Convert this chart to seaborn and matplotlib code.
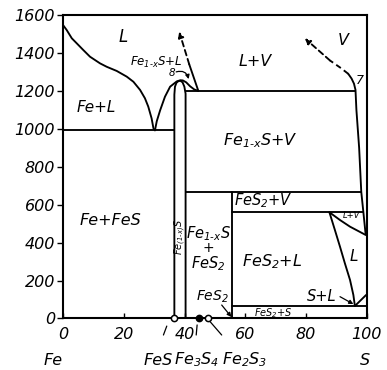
import matplotlib
matplotlib.use("Agg")
import matplotlib.pyplot as plt
import seaborn as sns
import pandas as pd

sns.set_theme(style="white")
plt.rcParams["font.family"] = ["DejaVu Sans"]
plt.rcParams["font.style"] = "oblique"
plt.rcParams["mathtext.fontset"] = "dejavusans"

# ---- phase-boundary data (wt.% S, temperature in deg C) ----
liq_fe_x = [0.0, 1.1, 2.8, 4.4, 6.6, 8.8, 12.1, 14.3, 17.6, 20.9, 23.1, 25.3, 26.9, 28.0, 29.1, 29.7, 30.2]
liq_fe_T = [1545, 1521, 1477, 1451, 1415, 1380, 1345, 1327, 1305, 1275, 1248, 1205, 1161, 1117, 1055, 1003, 992]

liq_fes_x = [30.2, 30.8, 31.9, 33.5, 35.2, 37.4, 38.6, 39.4, 40.5, 41.8, 43.2, 44.5]
liq_fes_T = [992, 1040, 1097, 1169, 1222, 1250, 1256, 1255, 1245, 1224, 1207, 1200]

dome_x = [36.6, 36.6, 36.8, 37.3, 38.0, 38.6, 39.3, 39.9, 40.3, 40.3]
dome_T = [0, 1180, 1222, 1243, 1252, 1253, 1245, 1222, 1185, 0]

eutectic_x = [0, 36.6]
eutectic_T = [992, 992]

mono_x = [40.3, 96.3]
mono_T = [1200, 1200]

vap_right_x = [93.9, 95.0, 95.8, 96.3, 96.6, 97.5, 98.2, 98.9, 99.6, 100.0]
vap_right_T = [1290, 1265, 1238, 1205, 1100, 900, 668, 560, 450, 440]

vap_dash_x = [93.9, 91.5, 87.9, 79.6]
vap_dash_T = [1290, 1320, 1360, 1477]

left_solid_x = [44.5, 41.5]
left_solid_T = [1200, 1340]
left_dash_x = [41.5, 38.2]
left_dash_T = [1340, 1512]

pyrite_top_x = [40.3, 98.2]
pyrite_top_T = [668, 668]
pyrite_v_x = [55.6, 98.9]
pyrite_v_T = [560, 560]
pyrite_col_x = [55.6, 55.6]
pyrite_col_T = [0, 668]

lv_x = [87.7, 91.2, 94.5, 99.7]
lv_T = [560, 519, 484, 440]

liq_s_x = [87.7, 89.5, 91.2, 92.8, 94.5, 95.6, 96.1]
liq_s_T = [560, 467, 378, 291, 203, 124, 66]

s_liq_x = [96.1, 99.8]
s_liq_T = [66, 124]

fes2_s_x = [55.6, 100.0]
fes2_s_T = [66, 66]

compound_x = [36.4, 44.6, 47.7]
compound_T = [0, 0, 0]
compound_fill = ["white", "black", "white"]

x_ticks = [0, 20, 40, 60, 80, 100]
y_ticks = [0, 200, 400, 600, 800, 1000, 1200, 1400, 1600]

fig = plt.figure(figsize=(3.87, 3.70), dpi=100)
ax = fig.add_axes([0.1636, 0.1392, 0.784, 0.8203])
ax.set_xlim(0, 100)
ax.set_ylim(0, 1600)

LW = 1.35
K = "black"
for xs, ts in [(liq_fe_x, liq_fe_T), (liq_fes_x, liq_fes_T), (dome_x, dome_T),
               (eutectic_x, eutectic_T), (mono_x, mono_T), (vap_right_x, vap_right_T),
               (left_solid_x, left_solid_T), (pyrite_top_x, pyrite_top_T),
               (pyrite_v_x, pyrite_v_T), (pyrite_col_x, pyrite_col_T),
               (lv_x, lv_T), (liq_s_x, liq_s_T), (s_liq_x, s_liq_T),
               (fes2_s_x, fes2_s_T)]:
    ax.plot(xs, ts, color=K, lw=LW, solid_capstyle="round")

# dashed vapour-pressure directions
ax.plot(vap_dash_x[:-1], vap_dash_T[:-1], color=K, lw=LW, ls=(0, (3, 2)))
ax.annotate("", xy=(vap_dash_x[-1], vap_dash_T[-1]), xytext=(vap_dash_x[-2], vap_dash_T[-2]),
            arrowprops=dict(arrowstyle="-|>", color=K, lw=LW, ls=(0, (3, 2)),
                            mutation_scale=8, shrinkA=0, shrinkB=0))
ax.annotate("", xy=(left_dash_x[1], left_dash_T[1]), xytext=(left_dash_x[0], left_dash_T[0]),
            arrowprops=dict(arrowstyle="-|>", color=K, lw=LW, ls=(0, (3, 2)),
                            mutation_scale=8, shrinkA=0, shrinkB=0))

# compound markers on the composition axis
comp = pd.DataFrame({"x": compound_x, "T": compound_T, "fill": compound_fill})
for fc, sub in comp.groupby("fill"):
    sns.scatterplot(data=sub, x="x", y="T", ax=ax, s=20, color=fc,
                    edgecolor=K, linewidth=1.1, zorder=5, clip_on=False, legend=False)

it = dict(fontstyle="oblique", color=K)

# region labels
ax.text(19.7, 1485, "L", fontsize=12, ha="center", va="center", **it)
ax.text(11.0, 1110, "Fe+L", fontsize=11, ha="center", va="center", **it)
ax.text(30.6, 1352, r"$Fe_{1\text{-}x}S$+$L$", fontsize=8.5, ha="center", va="center", color=K)
ax.text(35.7, 1292, "8", fontsize=7.5, ha="center", va="center", **it)
ax.annotate("", xy=(41.3, 1262), xytext=(37.2, 1300),
            arrowprops=dict(arrowstyle="-|>", color=K, lw=0.9, mutation_scale=6,
                            connectionstyle="arc3,rad=-0.5", shrinkA=0, shrinkB=0))
ax.text(63.2, 1354, "L+V", fontsize=11.5, ha="center", va="center", **it)
ax.text(92.2, 1468, "V", fontsize=11.5, ha="center", va="center", **it)
ax.text(97.8, 1257, "7", fontsize=9, ha="center", va="center", **it)
ax.text(64.8, 940, r"$Fe_{1\text{-}x}S$+$V$", fontsize=11.5, ha="center", va="center", color=K)
ax.text(15.4, 519, "Fe+FeS", fontsize=11.5, ha="center", va="center", **it)
ax.text(38.5, 431, r"$Fe_{(1\text{-}x)}S$", fontsize=7, rotation=90, ha="center", va="center", color=K)
ax.text(47.8, 449, r"$Fe_{1\text{-}x}S$", fontsize=10.5, ha="center", va="center", color=K)
ax.text(47.8, 370, "+", fontsize=10, ha="center", va="center", color=K)
ax.text(47.8, 291, r"$FeS_2$", fontsize=10.5, ha="center", va="center", color=K)
ax.text(65.8, 620, r"$FeS_2$+$V$", fontsize=10.5, ha="center", va="center", color=K)
ax.text(68.7, 299, r"$FeS_2$+$L$", fontsize=11.5, ha="center", va="center", color=K)
ax.text(95.6, 326, "L", fontsize=11, ha="center", va="center", **it)
ax.text(95.1, 543, "L+V", fontsize=6, ha="center", va="center", **it)
ax.text(69.2, 26, r"$FeS_2$+$S$", fontsize=7, ha="center", va="center", color=K)
ax.text(85.2, 115, "S+L", fontsize=10.5, ha="center", va="center", **it)
ax.annotate("", xy=(95.6, 76), xytext=(91.2, 115),
            arrowprops=dict(arrowstyle="-|>", color=K, lw=0.9, mutation_scale=6,
                            shrinkA=0, shrinkB=0))
ax.text(49.3, 115, r"$FeS_2$", fontsize=10, ha="center", va="center", color=K)
ax.annotate("", xy=(55.4, 8), xytext=(52.2, 71),
            arrowprops=dict(arrowstyle="-|>", color=K, lw=0.9, mutation_scale=6,
                            shrinkA=0, shrinkB=0))

# leaders and compound names below the axis
for xs, ts in [([34.1, 33.0], [-40, -87]), ([44.1, 43.8], [-34, -87]), ([48.4, 52.2], [-17, -87])]:
    ax.plot(xs, ts, color=K, lw=0.9, clip_on=False)
ax.text(-3.3, -219, "Fe", fontsize=11.5, ha="center", va="center", **it)
ax.text(31.3, -219, "FeS", fontsize=11.5, ha="center", va="center", **it)
ax.text(44.0, -219, r"$Fe_3S_4$", fontsize=11.5, ha="center", va="center", color=K)
ax.text(59.9, -219, r"$Fe_2S_3$", fontsize=11.5, ha="center", va="center", color=K)
ax.text(99.4, -219, "S", fontsize=11.5, ha="center", va="center", **it)

# axes frame and ticks
for sp in ax.spines.values():
    sp.set_visible(True)
    sp.set_color(K)
    sp.set_linewidth(1.5)
ax.set_xticks(x_ticks)
ax.set_yticks(y_ticks)
ax.set_xticklabels([str(v) for v in x_ticks], fontsize=11.5, fontstyle="oblique")
ax.set_yticklabels([str(v) for v in y_ticks], fontsize=11.5, fontstyle="oblique")
ax.tick_params(axis="y", direction="out", length=4, width=1.0, pad=2, left=True, colors=K)
ax.tick_params(axis="x", direction="in", length=3.5, width=1.0, pad=6, bottom=True, colors=K)
ax.set_xlabel("")
ax.set_ylabel("")
ax.grid(False)

fig.savefig("out.png", dpi=100, facecolor="white")
